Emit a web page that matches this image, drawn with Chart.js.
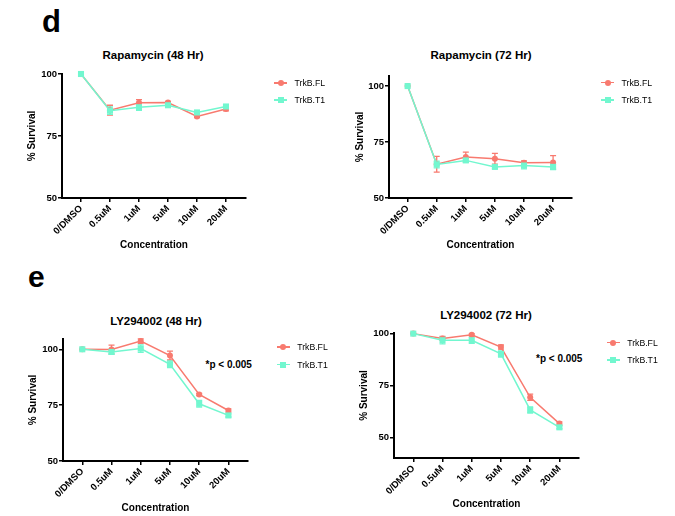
<!DOCTYPE html>
<html>
<head>
<meta charset="utf-8">
<script src="https://cdn.jsdelivr.net/npm/chart.js@4.4.1/dist/chart.umd.min.js"></script>
<style>
  body { margin: 0; background: #fff; width: 675px; height: 516px; position: relative; overflow: hidden;
         font-family: "Liberation Sans", Arial, sans-serif; color: #000; }
  canvas { position: absolute; }
  .big { position: absolute; font-weight: bold; line-height: 1; }
  .title { position: absolute; font-weight: bold; font-size: 11.5px; line-height: 12px; transform: translate(-50%, -50%); white-space: nowrap; }
  .leg { position: absolute; height: 10px; }
  .leg .ln { position: absolute; left: 0; top: 4.2px; width: 13px; height: 1.6px; }
  .leg .mk { position: absolute; }
  .leg .tx { position: absolute; top: 0; font-size: 8.7px; line-height: 10px; white-space: nowrap; }
  .pval { position: absolute; font-weight: bold; font-size: 10px; line-height: 10px; white-space: nowrap; }
</style>
</head>
<body>

<div class="big" style="left:42px; top:6px; font-size:31px;">d</div>
<div class="big" style="left:28px; top:262px; font-size:30px;">e</div>

<div class="title" style="left:153px; top:55px;">Rapamycin (48 Hr)</div>
<div class="title" style="left:481px; top:55px;">Rapamycin (72 Hr)</div>
<div class="title" style="left:156px; top:321px;">LY294002 (48 Hr)</div>
<div class="title" style="left:486px; top:315px;">LY294002 (72 Hr)</div>

<div class="pval" style="left:205.5px; top:359.7px;">*p &lt; 0.005</div>
<div class="pval" style="left:536px; top:354.3px;">*p &lt; 0.005</div>

<canvas id="rapa48"></canvas>
<canvas id="rapa72"></canvas>
<canvas id="ly48"></canvas>
<canvas id="ly72"></canvas>

<script>
const concentrations = ['0/DMSO', '0.5uM', '1uM', '5uM', '10uM', '20uM'];
const seriesNames = ['TrkB.FL', 'TrkB.T1'];
const yTickValues = [50, 75, 100];

// Rapamycin 48 Hr
const rapa48FL = [100, 85.4, 88.4, 88.5, 82.9, 85.9];
const rapa48FLErr = [0, 2, 1.3, 0.5, 0.5, 0.8];
const rapa48T1 = [100, 85.2, 86.6, 87.4, 84.5, 86.9];
const rapa48T1Err = [0, 1.5, 1.3, 0.5, 0.5, 0.5];

// Rapamycin 72 Hr
const rapa72FL = [100, 65.1, 68.3, 67.5, 65.7, 65.9];
const rapa72FLErr = [0, 3.5, 2.2, 2.4, 0.9, 3];
const rapa72T1 = [100, 65, 66.8, 63.9, 64.5, 63.9];
const rapa72T1Err = [0, 1.5, 0.8, 0.8, 1.5, 1.2];

// LY294002 48 Hr
const ly48FL = [100, 99.9, 103.7, 97.2, 79.8, 72.6];
const ly48FLErr = [0, 2, 1, 2, 0.5, 0.7];
const ly48T1 = [100, 98.8, 100.3, 93.3, 75.6, 70.4];
const ly48T1Err = [0, 1, 1.7, 1.5, 1.5, 0.7];

// LY294002 72 Hr
const ly72FL = [100, 97.7, 99.4, 93.5, 69.3, 56.6];
const ly72FLErr = [0, 1, 0.5, 1, 1.5, 0.8];
const ly72T1 = [100, 96.8, 96.8, 90.2, 63.2, 54.8];
const ly72T1Err = [0, 1.7, 1.5, 1.5, 1.5, 0.7];

const flColor = '#f87a6f';
const t1Color = '#72f7cf';

const errorBars = {
  id: 'errorBars',
  beforeDatasetsDraw(chart) {
    const {ctx, scales: {x, y}} = chart;
    chart.data.datasets.forEach(ds => {
      if (!ds.errors) return;
      ctx.save();
      ctx.strokeStyle = ds.borderColor;
      ctx.lineWidth = 1.3;
      ds.data.forEach((p, i) => {
        const e = ds.errors[i];
        if (!e) return;
        const px = x.getPixelForValue(p.x);
        const top = y.getPixelForValue(p.y + e);
        const bot = y.getPixelForValue(p.y - e);
        ctx.beginPath();
        ctx.moveTo(px, top); ctx.lineTo(px, bot);
        ctx.moveTo(px - 3, top); ctx.lineTo(px + 3, top);
        ctx.moveTo(px - 3, bot); ctx.lineTo(px + 3, bot);
        ctx.stroke();
      });
      ctx.restore();
    });
  }
};

function toPoints(values) {
  return values.map((v, i) => ({x: i, y: v}));
}

function addLegend(x0, rows) {
  const colors = [flColor, t1Color];
  rows.forEach((yc, i) => {
    const d = document.createElement('div');
    d.className = 'leg';
    d.style.left = x0 + 'px';
    d.style.top = (yc - 5) + 'px';
    const mk = i === 0
      ? `<span class="mk" style="left:3.5px; top:2px; width:6px; height:6px; border-radius:50%; background:${colors[i]}"></span>`
      : `<span class="mk" style="left:3.5px; top:2px; width:6px; height:6px; background:${colors[i]}"></span>`;
    d.innerHTML = `<span class="ln" style="background:${colors[i]}"></span>${mk}<span class="tx" style="left:20.5px">${seriesNames[i]}</span>`;
    document.body.appendChild(d);
  });
}

function makePanel(id, box, area, yMin, yMax, xMin, xMax, yTitleX, xTitleY, fl, flErr, t1, t1Err) {
  const canvas = document.getElementById(id);
  canvas.width = box.w;
  canvas.height = box.h;
  canvas.style.left = box.x + 'px';
  canvas.style.top = box.y + 'px';

  const tickFont = {family: '"Liberation Sans", Arial, sans-serif', size: 9.5, weight: 'bold'};
  const titleFont = {family: '"Liberation Sans", Arial, sans-serif', size: 10, weight: 'bold', lineHeight: 1.2};

  new Chart(canvas.getContext('2d'), {
    type: 'line',
    data: {
      datasets: [
        {
          label: seriesNames[0],
          data: toPoints(fl),
          errors: flErr,
          borderColor: flColor,
          backgroundColor: flColor,
          borderWidth: 1.5,
          pointStyle: 'circle',
          pointRadius: 3,
          pointBorderWidth: 0,
          tension: 0,
          clip: false,
          order: 1
        },
        {
          label: seriesNames[1],
          data: toPoints(t1),
          errors: t1Err,
          borderColor: t1Color,
          backgroundColor: t1Color,
          borderWidth: 1.5,
          pointStyle: 'rect',
          pointRadius: 4.3,
          pointBorderWidth: 0,
          tension: 0,
          clip: false,
          order: 0
        }
      ]
    },
    options: {
      responsive: false,
      animation: false,
      layout: {
        padding: {
          left: 0,
          top: area.T - box.y,
          right: box.x + box.w - area.R,
          bottom: 0
        }
      },
      plugins: {
        legend: {display: false},
        title: {display: false},
        tooltip: {enabled: false}
      },
      scales: {
        x: {
          type: 'linear',
          min: xMin,
          max: xMax,
          afterBuildTicks: s => { s.ticks = concentrations.map((c, i) => ({value: i})); },
          afterFit: s => { s.height = box.y + box.h - area.B; },
          ticks: {
            autoSkip: false,
            minRotation: 45,
            maxRotation: 45,
            padding: 1,
            color: '#000',
            font: tickFont,
            callback: v => concentrations[v]
          },
          grid: {drawOnChartArea: false, drawTicks: true, tickLength: 4, color: '#000', lineWidth: 1.5},
          border: {color: '#000', width: 2},
          title: {
            display: true,
            text: 'Concentration',
            color: '#000',
            font: titleFont,
            padding: {top: 0, bottom: box.y + box.h - xTitleY - 6}
          }
        },
        y: {
          type: 'linear',
          min: yMin,
          max: yMax,
          afterBuildTicks: s => { s.ticks = yTickValues.map(v => ({value: v})); },
          afterFit: s => { s.width = area.L - box.x; },
          ticks: {padding: 1, color: '#000', font: tickFont},
          grid: {drawOnChartArea: false, drawTicks: true, tickLength: 4, color: '#000', lineWidth: 1.5},
          border: {color: '#000', width: 2},
          title: {
            display: true,
            text: '% Survival',
            color: '#000',
            font: titleFont,
            padding: {top: yTitleX - box.x - 6, bottom: 0}
          }
        }
      }
    },
    plugins: [errorBars]
  });
}

makePanel('rapa48', {x: 0, y: 40, w: 340, h: 220}, {L: 62, T: 74, R: 246, B: 198},
  50, 100, -0.655, 5.69, 32, 245.7, rapa48FL, rapa48FLErr, rapa48T1, rapa48T1Err);
makePanel('rapa72', {x: 340, y: 40, w: 335, h: 220}, {L: 389, T: 76, R: 572, B: 198},
  50, 104.5, -0.64, 5.65, 360, 245.7, rapa72FL, rapa72FLErr, rapa72T1, rapa72T1Err);
makePanel('ly48', {x: 0, y: 300, w: 340, h: 216}, {L: 63, T: 339, R: 248, B: 461},
  50, 104.6, -0.66, 5.67, 33.3, 508.3, ly48FL, ly48FLErr, ly48T1, ly48T1Err);
makePanel('ly72', {x: 340, y: 300, w: 335, h: 216}, {L: 394, T: 333, R: 579, B: 458},
  40, 100.3, -0.66, 5.67, 364.3, 504.3, ly72FL, ly72FLErr, ly72T1, ly72T1Err);

addLegend(274, [83.3, 100]);
addLegend(601, [82.7, 100]);
addLegend(276.7, [347.3, 364.7]);
addLegend(606.7, [342.7, 360]);
</script>
</body>
</html>
